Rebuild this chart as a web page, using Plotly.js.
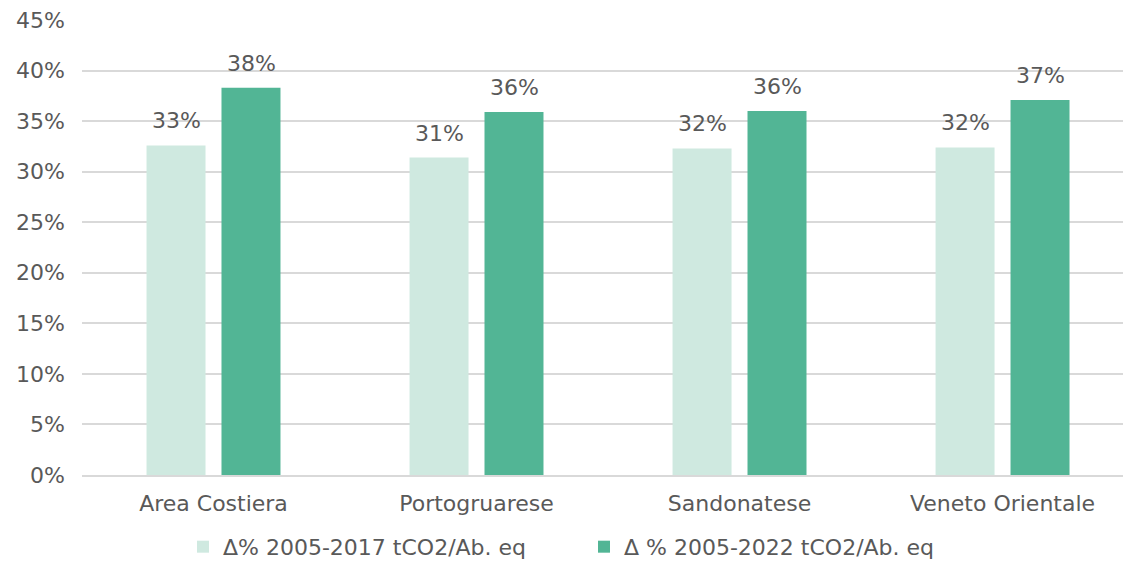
<!DOCTYPE html>
<html>
<head>
<meta charset="utf-8">
<script src="https://cdn.plot.ly/plotly-3.0.1.min.js"></script>
<style>html,body{margin:0;padding:0;background:#fff;overflow:hidden}#chart{width:1123px;height:568px}</style>
</head>
<body>
<div id="chart"></div>
<script>
const categories = ["Area Costiera", "Portogruarese", "Sandonatese", "Veneto Orientale"];
const series2017 = [0.326, 0.314, 0.323, 0.324];
const series2022 = [0.383, 0.359, 0.360, 0.371];
const name2017 = "Δ% 2005-2017 tCO2/Ab. eq";
const name2022 = "Δ % 2005-2022 tCO2/Ab. eq";
const yTicks = [0, 0.05, 0.10, 0.15, 0.20, 0.25, 0.30, 0.35, 0.40, 0.45];

const font = {family: "'DejaVu Sans', sans-serif", size: 22, color: "#595959"};
const pct = v => Math.round(v * 100) + "%";

const traces = [
  {type: "bar", x: categories, y: series2017, name: name2017,
   marker: {color: "#CFE9E0"}, hoverinfo: "skip"},
  {type: "bar", x: categories, y: series2022, name: name2022,
   marker: {color: "#52B595"}, hoverinfo: "skip"}
];

const annotations = [];
categories.forEach((c, i) => {
  annotations.push({x: c, y: series2017[i], xref: "x", yref: "y", text: pct(series2017[i]),
    showarrow: false, xshift: -37.5, yshift: 10, yanchor: "bottom", font: font});
  annotations.push({x: c, y: series2022[i], xref: "x", yref: "y", text: pct(series2022[i]),
    showarrow: false, xshift: 37.5, yshift: 10, yanchor: "bottom", font: font});
});

const layout = {
  width: 1123, height: 568,
  margin: {l: 82, r: 0, t: 20, b: 91},
  paper_bgcolor: "#fff", plot_bgcolor: "#fff",
  font: font,
  barmode: "group", bargap: 0.43, bargroupgap: 0.213,
  xaxis: {type: "category", range: [-0.5, 3.458], showgrid: false, showline: true,
          linecolor: "#d9d9d9", linewidth: 2, ticks: "", tickfont: font, ticklabelstandoff: 8},
  yaxis: {range: [0, 0.45], tickvals: yTicks, ticktext: yTicks.map(pct),
          showgrid: true, gridcolor: "#d9d9d9", gridwidth: 2, zeroline: false,
          ticks: "", ticklabelstandoff: 16, tickfont: font},
  annotations: annotations,
  showlegend: true,
  legend: {orientation: "h", x: 0.097, xanchor: "left", y: -0.158, yanchor: "middle",
           font: font, itemwidth: 30, traceorder: "normal",
           entrywidth: 356, entrywidthmode: "pixels"},
};

Plotly.newPlot("chart", traces, layout, {displayModeBar: false, staticPlot: true});
</script>
</body>
</html>
